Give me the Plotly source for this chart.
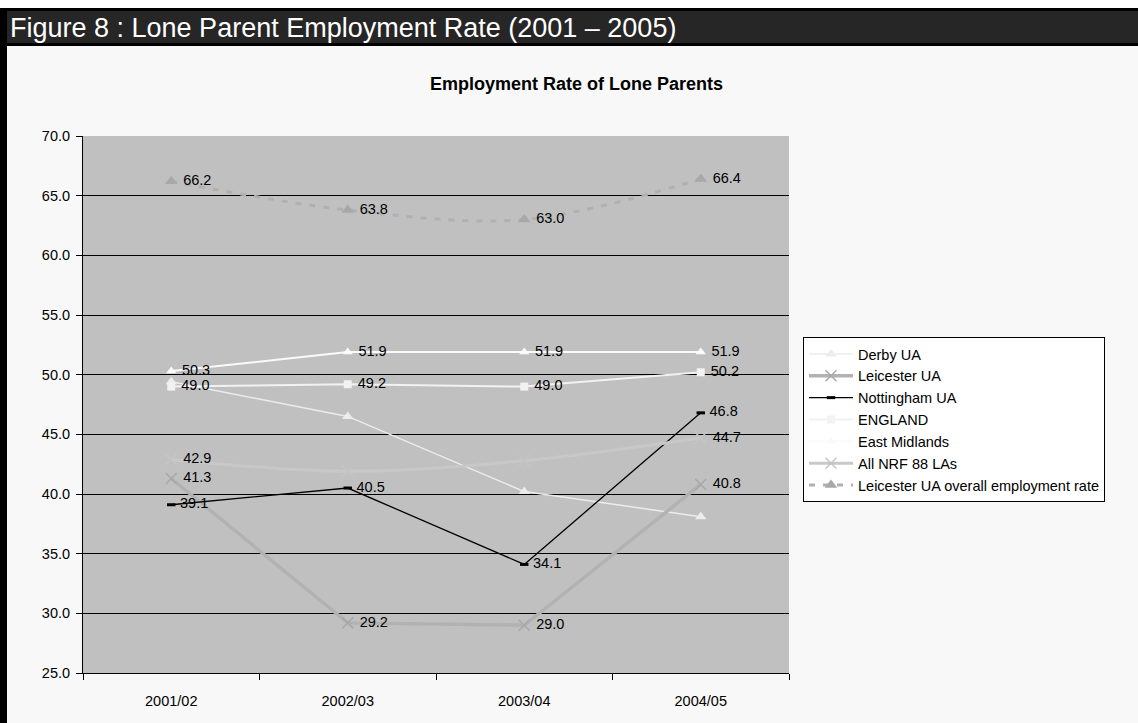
import plotly.graph_objects as go

categories = ["2001/02", "2002/03", "2003/04", "2004/05"]

derby = [49.4, 46.5, 40.2, 38.1]
leicester = [41.3, 29.2, 29.0, 40.8]
nottingham = [39.1, 40.5, 34.1, 46.8]
england = [49.0, 49.2, 49.0, 50.2]
east_midlands = [50.3, 51.9, 51.9, 51.9]
nrf88 = [42.9, 41.9, 42.8, 44.7]
leicester_overall = [66.2, 63.8, 63.0, 66.4]

# which points carry a visible data label
derby_lbl = [False, False, False, False]
leicester_lbl = [True, True, True, True]
nottingham_lbl = [True, True, True, True]
england_lbl = [True, True, True, True]
east_midlands_lbl = [True, True, True, True]
nrf88_lbl = [True, False, False, True]
overall_lbl = [True, True, True, True]

y_ticks = [25, 30, 35, 40, 45, 50, 55, 60, 65, 70]

FONT = "Arial, Liberation Sans, sans-serif"
LBL_FONT = dict(family=FONT, size=14.5, color="#000000")


def labels(vals, mask):
    return ["\u00a0" + f"{v:.1f}" if m else "" for v, m in zip(vals, mask)]


fig = go.Figure()


def add(name, vals, mask, line, marker, shape="linear"):
    fig.add_trace(go.Scatter(
        x=categories, y=vals, name=name, mode="lines+markers+text",
        text=labels(vals, mask), textposition="middle right",
        textfont=LBL_FONT, line=dict(shape=shape, **line), marker=marker,
        cliponaxis=False,
    ))


add("Derby UA", derby, derby_lbl,
    dict(color="#ececec", width=1.5),
    dict(symbol="triangle-up", size=10, color="#ececec"))
add("Leicester UA", leicester, leicester_lbl,
    dict(color="#b2b2b2", width=3.5),
    dict(symbol="x-thin", size=11, color="#a8a8a8", line=dict(color="#a8a8a8", width=1.5)))
add("Nottingham UA", nottingham, nottingham_lbl,
    dict(color="#000000", width=1.3),
    dict(symbol="line-ew", size=6, color="#000000", line=dict(color="#000000", width=3)))
add("ENGLAND", england, england_lbl,
    dict(color="#f2f2f2", width=2),
    dict(symbol="square", size=8, color="#f2f2f2"))
add("East Midlands", east_midlands, east_midlands_lbl,
    dict(color="#fafafa", width=2),
    dict(symbol="triangle-up", size=9, color="#fafafa"))
add("All NRF 88 LAs", nrf88, nrf88_lbl,
    dict(color="#c8c8c8", width=3),
    dict(symbol="x-thin", size=11, color="#c5c5c5", line=dict(color="#c5c5c5", width=1.5)),
    shape="spline")
add("Leicester UA overall employment rate", leicester_overall, overall_lbl,
    dict(color="#b0b0b0", width=3, dash="6px,8px"),
    dict(symbol="triangle-up", size=11, color="#a8a8a8"),
    shape="spline")

# page frame (pixel geometry converted to paper coordinates)
L, R, T, B = 83, 349, 136, 50
W, H = 1138, 723
PW, PH = W - L - R, H - T - B


def px(x):
    return (x - L) / PW


def py(y):
    return (H - B - y) / PH


shapes = [
    dict(type="rect", xref="paper", yref="paper", x0=px(0), x1=px(W), y0=py(8), y1=py(0),
         fillcolor="#ffffff", line_width=0, layer="below"),
    dict(type="rect", xref="paper", yref="paper", x0=px(0), x1=px(W), y0=py(46), y1=py(8),
         fillcolor="#000000", line_width=0, layer="below"),
    dict(type="rect", xref="paper", yref="paper", x0=px(0), x1=px(W), y0=py(43), y1=py(11),
         fillcolor="#262626", line_width=0, layer="below"),
    dict(type="rect", xref="paper", yref="paper", x0=px(0), x1=px(7), y0=py(H), y1=py(8),
         fillcolor="#000000", line_width=0, layer="below"),
]

annotations = [
    dict(text="Figure 8 : Lone Parent Employment Rate (2001 – 2005)", xref="paper", yref="paper",
         x=px(8), y=py(28), xanchor="left", yanchor="middle", showarrow=False,
         font=dict(family=FONT, size=27, color="#ffffff")),
    dict(text="<b>Employment Rate of Lone Parents</b>", xref="paper", yref="paper",
         x=px(576), y=py(84), xanchor="center", yanchor="middle", showarrow=False,
         font=dict(family=FONT, size=18, color="#000000")),
]

fig.update_layout(
    width=W, height=H,
    margin=dict(l=L, r=R, t=T, b=B, autoexpand=False),
    paper_bgcolor="#f8f8f8", plot_bgcolor="#c0c0c0",
    font=dict(family=FONT, size=14.5, color="#000000"),
    shapes=shapes, annotations=annotations,
    showlegend=True,
    legend=dict(x=px(803), y=py(337), xanchor="left", yanchor="top",
                bgcolor="#ffffff", bordercolor="#000000", borderwidth=1,
                font=dict(family=FONT, size=14.5, color="#000000"),
                tracegroupgap=0, itemwidth=44),
    xaxis=dict(type="category", range=[-0.5, 3.5], tickson="boundaries", ticks="outside",
               ticklen=6, tickcolor="#000000", showline=True, linecolor="#000000", linewidth=1,
               showgrid=False, tickfont=dict(size=14.5), ticklabelstandoff=15),
    yaxis=dict(range=[25, 70], tickvals=y_ticks, tickformat=".1f", ticks="outside", ticklen=6,
               tickcolor="#000000", showline=True, linecolor="#000000", linewidth=1,
               showgrid=True, gridcolor="#000000", gridwidth=1, zeroline=False,
               tickfont=dict(size=14.5), ticklabelstandoff=3),
)

fig.write_html("out.html", config={"displayModeBar": False},
               post_script="document.body.style.margin='0px';")
